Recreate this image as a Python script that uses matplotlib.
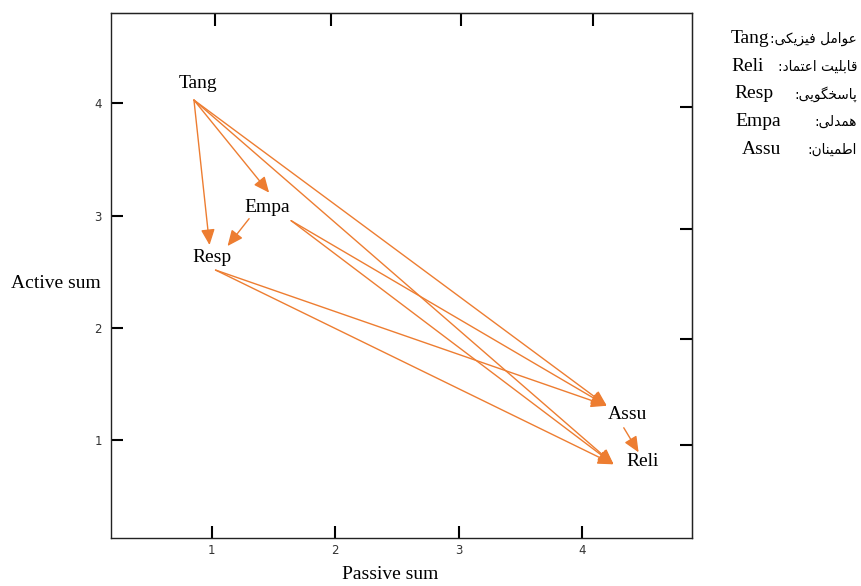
import numpy as np
import matplotlib
matplotlib.use('Agg')
import matplotlib.pyplot as plt
from matplotlib.transforms import offset_copy

# node positions: passive sum (x), active sum (y)
nodes = ['Tang', 'Reli', 'Resp', 'Empa', 'Assu']
passive_sum = [0.89, 4.49, 1.00, 1.45, 4.37]
active_sum = [4.18, 0.81, 2.63, 3.07, 1.225]

# directed influences between the factors
edges = [('Tang', 'Resp'), ('Tang', 'Empa'), ('Tang', 'Assu'), ('Tang', 'Reli'),
         ('Empa', 'Resp'), ('Empa', 'Assu'), ('Empa', 'Reli'),
         ('Resp', 'Assu'), ('Resp', 'Reli'),
         ('Assu', 'Reli')]

# legend: code -> persian name
legend_codes = ['Tang', 'Reli', 'Resp', 'Empa', 'Assu']
legend_names = ['عوامل فیزیکی', 'قابلیت اعتماد', 'پاسخگویی', 'همدلی', 'اطمینان']

x_ticks = [1, 2, 3, 4]
y_ticks = [1, 2, 3, 4]

ORANGE = '#ED7D31'

# where arrows leave / enter each label (pixel offsets from label centre, y down)
out_port = {'Tang': (-4, 17), 'Empa': (24, 13), 'Resp': (4, 13), 'Assu': (-4, 13)}
in_port = {'Resp': (-2, -12), 'Empa': (2, -15), 'Assu': (-21, -9), 'Reli': (-29, 3)}
port_override = {('Empa', 'Resp'): ((-18, 11), (16, -11)),
                 ('Assu', 'Reli'): ((-4, 13), (-4, -9))}

# minimal persian shaping (matplotlib has no complex text layout)
FORMS = {
    'ا': ('\uFE8D', '\uFE8E', None, None),
    'ب': ('\uFE8F', '\uFE90', '\uFE91', '\uFE92'),
    'پ': ('\uFB56', '\uFB57', '\uFB58', '\uFB59'),
    'ت': ('\uFE95', '\uFE96', '\uFE97', '\uFE98'),
    'خ': ('\uFEA5', '\uFEA6', '\uFEA7', '\uFEA8'),
    'د': ('\uFEA9', '\uFEAA', None, None),
    'ز': ('\uFEAF', '\uFEB0', None, None),
    'س': ('\uFEB1', '\uFEB2', '\uFEB3', '\uFEB4'),
    'ط': ('\uFEC1', '\uFEC2', '\uFEC3', '\uFEC4'),
    'ع': ('\uFEC9', '\uFECA', '\uFECB', '\uFECC'),
    'ف': ('\uFED1', '\uFED2', '\uFED3', '\uFED4'),
    'ق': ('\uFED5', '\uFED6', '\uFED7', '\uFED8'),
    'ک': ('\uFB8E', '\uFB8F', '\uFB90', '\uFB91'),
    'گ': ('\uFB92', '\uFB93', '\uFB94', '\uFB95'),
    'ل': ('\uFEDD', '\uFEDE', '\uFEDF', '\uFEE0'),
    'م': ('\uFEE1', '\uFEE2', '\uFEE3', '\uFEE4'),
    'ن': ('\uFEE5', '\uFEE6', '\uFEE7', '\uFEE8'),
    'ه': ('\uFEE9', '\uFEEA', '\uFEEB', '\uFEEC'),
    'و': ('\uFEED', '\uFEEE', None, None),
    'ی': ('\uFBFC', '\uFBFD', '\uFBFE', '\uFBFF'),
}


def shape_fa(text):
    out = []
    for i, c in enumerate(text):
        if c not in FORMS:
            out.append(c)
            continue
        prev = text[i - 1] if i > 0 else ''
        nxt = text[i + 1] if i < len(text) - 1 else ''
        join_prev = prev in FORMS and FORMS[prev][2] is not None
        join_next = nxt in FORMS and FORMS[c][2] is not None
        iso, fin, ini, med = FORMS[c]
        if join_prev and join_next:
            out.append(med)
        elif join_prev:
            out.append(fin)
        elif join_next:
            out.append(ini)
        else:
            out.append(iso)
    return ''.join(reversed(out))


fig = plt.figure(figsize=(8.61, 5.86), dpi=100)
ax = fig.add_axes([0.1295, 0.0819, 0.6742, 0.8951])

ax.set_xlim(0.19, 4.89)
ax.set_ylim(0.127, 4.80)

for s in ax.spines.values():
    s.set_linewidth(1.0)
    s.set_color('#222222')

ax.set_xticks(x_ticks)
ax.set_yticks(y_ticks)
ax.tick_params(axis='both', direction='in', length=8.5, width=1.5,
               labelsize=8.5, labelcolor='#333333', color='black')
ax.tick_params(axis='y', pad=7)
ax.tick_params(axis='x', pad=4)

# the frame of the original has its own offset ticks on top and right
top = ax.secondary_xaxis('top')
top.set_xticks([1.03, 1.97, 3.02, 4.09])
top.set_xticklabels([])
top.tick_params(direction='in', length=9, width=1.5)
right = ax.secondary_yaxis('right')
right.set_yticks([0.96, 1.90, 2.88, 3.97])
right.set_yticklabels([])
right.tick_params(direction='in', length=8.5, width=1.5)

serif = 'Liberation Serif'
ax.set_xlabel('Passive sum', fontsize=14, family=serif, va='top')
ax.xaxis.set_label_coords(0.48, -0.053)
ax.set_ylabel('Active sum', fontsize=14, family=serif, rotation=0,
              ha='center', va='center')
ax.yaxis.set_label_coords(-0.0956, 0.486)

for name, px, ay in zip(nodes, passive_sum, active_sum):
    ax.text(px, ay, name, fontsize=14, family=serif, ha='center', va='center')

for src, dst in edges:
    i, j = nodes.index(src), nodes.index(dst)
    p_out, p_in = port_override.get((src, dst), (out_port[src], in_port[dst]))
    tr_out = offset_copy(ax.transData, fig=fig, x=p_out[0], y=-p_out[1], units='dots')
    tr_in = offset_copy(ax.transData, fig=fig, x=p_in[0], y=-p_in[1], units='dots')
    ax.annotate('', xy=(passive_sum[j], active_sum[j]), xycoords=tr_in,
                xytext=(passive_sum[i], active_sum[i]), textcoords=tr_out,
                arrowprops=dict(arrowstyle='-|>,head_length=0.95,head_width=0.42',
                                mutation_scale=10, color=ORANGE, lw=1.0,
                                shrinkA=0, shrinkB=0))

# legend block at the right
code_x = [750, 748, 754, 758, 761]
for k, (code, name) in enumerate(zip(legend_codes, legend_names)):
    base = 1 - (43 + 27.75 * k) / 586
    fig.text(code_x[k] / 861, base, code, fontsize=14, family=serif,
             ha='center', va='baseline')
    fig.text(857 / 861, base, shape_fa(name + ':'), fontsize=9.8,
             family='DejaVu Sans', ha='right', va='baseline')

fig.savefig('out.png', dpi=100)
